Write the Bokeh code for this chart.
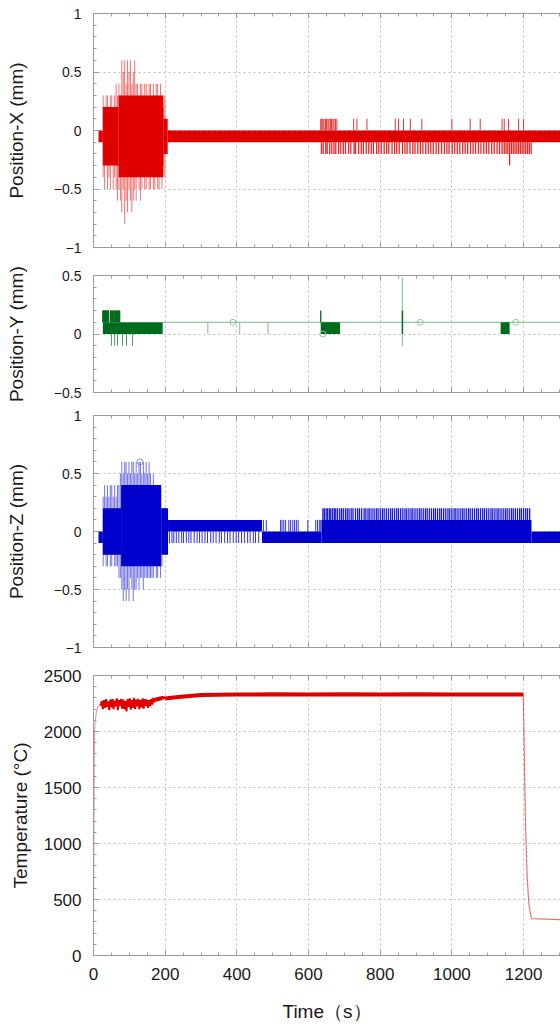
from bokeh.plotting import figure
from bokeh.layouts import column
from bokeh.models import Range1d, LinearAxis, SingleIntervalTicker, Grid
from bokeh.embed import file_html
from bokeh.resources import INLINE

# ---------------- data ----------------
T_END = 1303
# Position-X : solid blocks (t0, t1, lo, hi)
x_blk_t0 = [14, 26, 70, 195, 207]
x_blk_t1 = [26, 70, 195, 207, T_END]
x_blk_lo = [-0.1, -0.3, -0.4, -0.2, -0.1]
x_blk_hi = [0.0, 0.2, 0.3, 0.1, 0.0]
# Position-X : oscillation spikes in the first 200 s
osc_t = [27, 31, 35, 39, 43, 47, 51, 55, 59, 63, 67, 71, 75, 79, 83, 87, 91, 95, 99, 103, 107, 111, 115,
         119, 123, 127, 131, 135, 139, 143, 147, 151, 155, 159, 163, 167, 171, 175, 179, 183, 187, 191,
         195, 199, 203]
x_osc_hi = [0.3, 0.2, 0.3, 0.3, 0.2, 0.3, 0.3, 0.2, 0.3, 0.4, 0.3, 0.4, 0.3, 0.6, 0.5, 0.6, 0.4, 0.6, 0.5,
            0.6, 0.4, 0.5, 0.6, 0.4, 0.4, 0.3, 0.4, 0.4, 0.3, 0.4, 0.4, 0.3, 0.4, 0.4, 0.3, 0.4, 0.3, 0.4,
            0.4, 0.3, 0.4, 0.3, 0.2, 0.3, 0.1]
x_osc_lo = [-0.4, -0.5, -0.3, -0.5, -0.4, -0.5, -0.3, -0.5, -0.4, -0.5, -0.6, -0.5, -0.6, -0.7, -0.5, -0.8,
            -0.6, -0.7, -0.5, -0.6, -0.7, -0.6, -0.5, -0.6, -0.4, -0.5, -0.6, -0.5, -0.4, -0.5, -0.5, -0.4,
            -0.5, -0.5, -0.4, -0.5, -0.5, -0.4, -0.5, -0.5, -0.4, -0.5, -0.3, -0.4, -0.2]
# Position-X : readings of +0.1 and -0.2 after 630 s
x_up_t = [634, 637, 640, 643, 647, 650, 654, 657, 661, 664, 668, 671, 675, 679, 726, 735, 763, 842, 851,
          865, 884, 916, 1000, 1051, 1079, 1140, 1146, 1158, 1186, 1200]
x_low_t = [636, 641, 648, 652, 659, 665, 671, 676, 684, 690, 697, 703, 712, 718, 727, 731, 740, 747, 753,
           761, 768, 775, 781, 790, 796, 803, 811, 818, 824, 833, 840, 846, 853, 862, 869, 875, 883, 891,
           897, 905, 912, 919, 927, 934, 941, 948, 956, 963, 971, 979, 986, 992, 1001, 1008, 1015, 1022,
           1030, 1037, 1044, 1052, 1059, 1066, 1074, 1081, 1089, 1096, 1103, 1111, 1118, 1126, 1133, 1140,
           1146, 1151, 1156, 1161, 1166, 1171, 1176, 1181, 1186, 1191, 1196, 1201, 1206, 1211, 1216, 1221]
x_low_lo = [-0.3 if t == 1161 else -0.2 for t in x_low_t]

# Position-Y
y_blk_t0 = [26, 634, 860, 1136]
y_blk_t1 = [193, 688, 864, 1161]
y_blk_lo = [0.0, 0.0, 0.0, 0.0]
y_blk_hi = [0.1, 0.1, 0.2, 0.1]
y_up_t = [26, 27.5, 29, 31, 33, 34.5, 36, 38, 40, 41.5, 47, 49, 51, 53, 55, 58, 61, 63, 65, 67, 69, 71,
          73, 634]
y_low_t = [50, 59, 67, 81, 92, 109]
y_thin_t = [319, 408, 487, 862]
y_thin_lo = [0.0, 0.0, 0.0, -0.1]
y_thin_hi = [0.1, 0.1, 0.1, 0.48]
y_mark_t = [389, 640, 912, 1178]
y_mark_v = [0.1, 0.0, 0.1, 0.1]

# Position-Z
z_blk_t0 = [14, 26, 77, 189, 208, 470, 636, 1222]
z_blk_t1 = [26, 77, 189, 208, 470, 636, 1222, T_END]
z_blk_lo = [-0.1, -0.2, -0.3, -0.2, 0.0, -0.1, -0.1, -0.1]
z_blk_hi = [0.0, 0.2, 0.4, 0.2, 0.1, 0.0, 0.1, 0.0]
z_osc_hi = [0.3, 0.4, 0.3, 0.4, 0.3, 0.4, 0.4, 0.3, 0.4, 0.3, 0.4, 0.4, 0.5, 0.6, 0.5, 0.6, 0.6, 0.5, 0.6,
            0.5, 0.6, 0.6, 0.5, 0.6, 0.5, 0.6, 0.6, 0.5, 0.6, 0.5, 0.6, 0.5, 0.6, 0.5, 0.4, 0.5, 0.4, 0.4,
            0.4, 0.4, 0.3, 0.2, 0.2, 0.2, 0.1]
z_osc_lo = [-0.3, -0.2, -0.3, -0.3, -0.2, -0.3, -0.3, -0.2, -0.3, -0.3, -0.3, -0.4, -0.4, -0.5, -0.6, -0.5,
            -0.6, -0.5, -0.6, -0.4, -0.5, -0.6, -0.5, -0.5, -0.4, -0.5, -0.4, -0.4, -0.5, -0.4, -0.4, -0.4,
            -0.4, -0.4, -0.4, -0.4, -0.3, -0.4, -0.4, -0.3, -0.4, -0.3, -0.1, -0.1, -0.1]
z_low_t = [212, 219, 224, 231, 238, 246, 251, 259, 266, 272, 281, 289, 296, 303, 311, 318, 327, 334,
           342, 351, 357, 366, 374, 381, 390, 398, 405, 413, 421, 430, 437, 446, 452, 461]
z_up_t = [474, 482, 522, 526, 531, 536, 545, 550, 556, 561, 566, 571, 598, 620, 625, 630, 634]
z_comb_t = [640, 644, 649, 653, 658, 662, 667, 672, 676, 681, 687, 692, 697, 703, 708, 713, 719, 724,
            731, 737, 742, 748, 755, 760, 766, 771, 777, 783, 789, 794, 800, 806, 811, 817, 823, 829, 834,
            840, 846, 851, 857, 863, 869, 874, 880, 886, 891, 897, 903, 909, 914, 920, 926, 931, 937, 943,
            949, 954, 960, 966, 971, 977, 983, 989, 994, 1000, 1006, 1011, 1017, 1023, 1029, 1034, 1040,
            1046, 1051, 1057, 1063, 1069, 1074, 1080, 1086, 1091, 1097, 1103, 1109, 1114, 1120, 1126, 1131,
            1137, 1143, 1149, 1154, 1160, 1166, 1171, 1177, 1183, 1189, 1194, 1200, 1206, 1211, 1217]
z_mark_t = [130]
z_mark_v = [0.6]

# Temperature
temp_rise_t = [0, 1, 2, 3, 5, 8, 12, 16, 20]
temp_rise_v = [300, 1000, 1700, 2000, 2100, 2170, 2220, 2240, 2230]
temp_noise_t = [20, 23, 26, 29, 32, 35, 38, 41, 44, 47, 50, 53, 56, 59, 62, 65, 68, 71, 74, 77, 80, 83,
                86, 89, 92, 95, 98, 101, 104, 107, 110, 113, 116, 119, 122, 125, 128, 131, 134, 137, 140,
                143, 146, 149, 152, 155, 158, 161, 164, 167, 170, 173, 176, 179, 182, 185, 188, 191, 194,
                197, 200]
temp_noise_v = [2230, 2270, 2200, 2280, 2210, 2290, 2220, 2270, 2190, 2285, 2215, 2290, 2200, 2275, 2225,
                2295, 2190, 2280, 2230, 2290, 2205, 2285, 2200, 2270, 2180, 2290, 2220, 2295, 2195, 2280,
                2210, 2300, 2200, 2285, 2225, 2290, 2200, 2280, 2215, 2295, 2205, 2290, 2230, 2285, 2210,
                2280, 2225, 2290, 2240, 2300, 2260, 2300, 2270, 2305, 2275, 2310, 2280, 2315, 2290, 2310,
                2295]
temp_plat_t = [200, 230, 260, 300, 400, 500, 600, 700, 800, 900, 1000, 1100, 1199]
temp_plat_v = [2295, 2305, 2315, 2325, 2330, 2332, 2330, 2333, 2330, 2332, 2330, 2331, 2330]
temp_drop_t = [1199, 1200, 1201, 1203, 1206, 1210, 1215, 1222, T_END]
temp_drop_v = [2330, 2200, 2000, 1600, 1100, 700, 450, 330, 320]

# ---------------- styling ----------------
FONT = "Liberation Sans"
AX = "#9a9a9a"
GRID = "#bdbdbd"
TXT = "#1a1a1a"
RED = "#e00000"
GREEN = "#006b1c"
LGREEN = "#8ec79a"
BLUE = "#0000cc"

xr = Range1d(0, T_END)


def style_axis(ax, labels, size="14px"):
    ax.axis_line_color = AX
    ax.major_tick_line_color = AX
    ax.minor_tick_line_color = AX
    ax.major_tick_in = 5
    ax.major_tick_out = 0
    ax.minor_tick_in = 3
    ax.minor_tick_out = 0
    if labels:
        ax.major_label_text_font = FONT
        ax.major_label_text_font_size = size
        ax.major_label_text_color = TXT
        ax.major_label_standoff = 12
    else:
        ax.major_label_text_font_size = "0px"
        ax.major_label_text_alpha = 0
        ax.major_label_standoff = 0


def panel(h, y0, y1, yint, label, top, bottom, ysize, lstand, show_x=False):
    p = figure(width=560, height=h, x_range=xr, y_range=Range1d(y0, y1),
               output_backend="svg", toolbar_location=None,
               x_axis_location=None, y_axis_location=None,
               min_border_left=93, min_border_right=0,
               min_border_top=top, min_border_bottom=bottom)
    p.outline_line_color = None
    p.center = []
    yl = LinearAxis(ticker=SingleIntervalTicker(interval=yint, num_minor_ticks=5), axis_label=label)
    style_axis(yl, True, ysize)
    yl.axis_label_text_font = FONT
    yl.axis_label_text_font_size = "19px"
    yl.axis_label_text_font_style = "normal"
    yl.axis_label_text_color = TXT
    yl.axis_label_standoff = lstand
    p.add_layout(yl, "left")
    xb = LinearAxis(ticker=SingleIntervalTicker(interval=200, num_minor_ticks=4))
    style_axis(xb, show_x, "17px")
    if show_x:
        xb.axis_label = "Time（s）"
        xb.axis_label_text_font = FONT
        xb.axis_label_text_font_size = "19px"
        xb.axis_label_text_font_style = "normal"
        xb.axis_label_text_color = TXT
        xb.axis_label_standoff = 18
    p.add_layout(xb, "below")
    xt = LinearAxis(ticker=SingleIntervalTicker(interval=200, num_minor_ticks=4))
    style_axis(xt, False)
    p.add_layout(xt, "above")
    for dim, tk in ((0, SingleIntervalTicker(interval=200)), (1, SingleIntervalTicker(interval=yint))):
        g = Grid(dimension=dim, ticker=tk, grid_line_color=GRID, grid_line_dash="2 3", grid_line_width=1)
        p.add_layout(g, "center")
    return p


# Panel 1: Position-X
p1 = panel(261, -1, 1, 0.5, "Position-X (mm)", 13, 14, "14px", 24)
p1.segment(x0=osc_t, y0=x_osc_lo, x1=osc_t, y1=x_osc_hi, line_color=RED, line_alpha=0.55, line_width=1)
p1.quad(left=x_blk_t0, right=x_blk_t1, bottom=x_blk_lo, top=x_blk_hi, fill_color=RED, line_color=None)
p1.segment(x0=x_up_t, y0=[0.0] * len(x_up_t), x1=x_up_t, y1=[0.1] * len(x_up_t),
           line_color=RED, line_alpha=0.8, line_width=1)
p1.segment(x0=x_low_t, y0=x_low_lo, x1=x_low_t, y1=[-0.1] * len(x_low_t),
           line_color=RED, line_alpha=0.85, line_width=1.3)

# Panel 2: Position-Y
p2 = panel(142, -0.5, 0.5, 0.5, "Position-Y (mm)", 14, 11, "14px", 24)
p2.segment(x0=[193], y0=[0.1], x1=[T_END], y1=[0.1], line_color=LGREEN, line_width=1.2)
p2.segment(x0=y_thin_t, y0=y_thin_lo, x1=y_thin_t, y1=y_thin_hi, line_color=LGREEN, line_width=1.2)
p2.quad(left=y_blk_t0, right=y_blk_t1, bottom=y_blk_lo, top=y_blk_hi, fill_color=GREEN, line_color=None)
p2.segment(x0=y_up_t, y0=[0.1] * len(y_up_t), x1=y_up_t, y1=[0.2] * len(y_up_t),
           line_color=GREEN, line_width=1.3)
p2.segment(x0=y_low_t, y0=[-0.1] * len(y_low_t), x1=y_low_t, y1=[0.0] * len(y_low_t),
           line_color=GREEN, line_alpha=0.7, line_width=1)
p2.scatter(y_mark_t, y_mark_v, marker="circle", size=6, fill_color=None, line_color=LGREEN, line_width=1)

# Panel 3: Position-Z
p3 = panel(258, -1, 1, 0.5, "Position-Z (mm)", 12, 14, "14px", 24)
p3.segment(x0=osc_t, y0=z_osc_lo, x1=osc_t, y1=z_osc_hi, line_color=BLUE, line_alpha=0.55, line_width=1)
p3.quad(left=z_blk_t0, right=z_blk_t1, bottom=z_blk_lo, top=z_blk_hi, fill_color=BLUE, line_color=None)
p3.segment(x0=z_low_t, y0=[-0.1] * len(z_low_t), x1=z_low_t, y1=[0.0] * len(z_low_t),
           line_color=BLUE, line_alpha=0.8, line_width=1)
p3.segment(x0=z_up_t, y0=[0.0] * len(z_up_t), x1=z_up_t, y1=[0.1] * len(z_up_t),
           line_color=BLUE, line_alpha=0.8, line_width=1)
p3.segment(x0=z_comb_t, y0=[0.1] * len(z_comb_t), x1=z_comb_t, y1=[0.2] * len(z_comb_t),
           line_color=BLUE, line_alpha=0.9, line_width=1.3)
p3.scatter(z_mark_t, z_mark_v, marker="circle", size=6, fill_color=None, line_color="#8a8ae0", line_width=1)

# Panel 4: Temperature
p4 = panel(366, 0, 2500, 500, "Temperature (°C)", 14, 72, "17px", 10, show_x=True)
p4.line(temp_rise_t, temp_rise_v, line_color=RED, line_alpha=0.45, line_width=1)
p4.line(temp_noise_t, temp_noise_v, line_color=RED, line_width=2)
p4.line(temp_plat_t, temp_plat_v, line_color=RED, line_width=4)
p4.line(temp_drop_t, temp_drop_v, line_color=RED, line_alpha=0.55, line_width=1.2)

layout = column(p1, p2, p3, p4, spacing=0)
open("out.html", "w").write(file_html(layout, INLINE))
